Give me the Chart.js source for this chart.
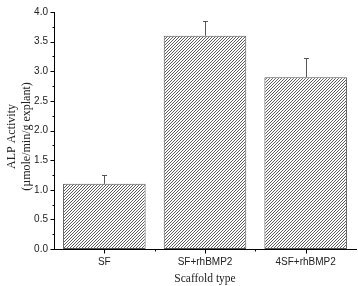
<!DOCTYPE html>
<html>
<head>
<meta charset="utf-8">
<script src="https://cdn.jsdelivr.net/npm/chart.js@4"></script>
<style>
  html, body { margin: 0; padding: 0; background: #fff; }
  #wrap { width: 358px; height: 286px; }
</style>
</head>
<body>
<div id="wrap"><canvas id="alp-chart" width="358" height="286"></canvas></div>
<script>
// data
const categories = ['SF', 'SF+rhBMP2', '4SF+rhBMP2'];
const alpValues = [1.1, 3.6, 2.9];
const alpErrors = [0.15, 0.25, 0.33];
const yTicks = [0, 0.5, 1.0, 1.5, 2.0, 2.5, 3.0, 3.5, 4.0];
const yTitleLines = ['ALP Activity', '(\u00b5mole/min/g explant)'];

const SANS = '"Liberation Sans", Arial, sans-serif';
const SERIF = '"Liberation Serif", "Times New Roman", serif';

// diagonal hatch fill
function makeHatch() {
    const size = 3;
    const c = document.createElement('canvas');
    c.width = size; c.height = size;
    const g = c.getContext('2d');
    g.fillStyle = '#fff';
    g.fillRect(0, 0, size, size);
    g.strokeStyle = '#4a4a4a';
    g.lineWidth = 0.9;
    g.beginPath();
    g.moveTo(-1, size + 1); g.lineTo(size + 1, -1);
    g.moveTo(-1, 1); g.lineTo(1, -1);
    g.moveTo(size - 1, size + 1); g.lineTo(size + 1, size - 1);
    g.stroke();
    return g.createPattern(c, 'repeat');
}

// error bars (upper only), axis ticks, two-line y title
const extrasPlugin = {
    id: 'extras',
    afterDatasetsDraw(chart) {
        const ctx = chart.ctx;
        const y = chart.scales.y;
        const meta = chart.getDatasetMeta(0);
        ctx.save();
        ctx.strokeStyle = '#555';
        ctx.lineWidth = 1;
        meta.data.forEach((bar, i) => {
            const x = Math.round(bar.x) + 0.5;
            const top = y.getPixelForValue(alpValues[i]);
            const hi = Math.round(y.getPixelForValue(alpValues[i] + alpErrors[i])) + 0.5;
            ctx.beginPath();
            ctx.moveTo(x, top);
            ctx.lineTo(x, hi);
            ctx.moveTo(x - 2.5, hi);
            ctx.lineTo(x + 2.5, hi);
            ctx.stroke();
        });
        ctx.restore();
    },
    afterDraw(chart) {
        const ctx = chart.ctx;
        const x = chart.scales.x;
        const y = chart.scales.y;
        const area = chart.chartArea;
        ctx.save();
        ctx.strokeStyle = '#000';
        ctx.lineWidth = 1;
        ctx.beginPath();
        const ax = Math.round(area.left) + 0.5;
        for (let v = 0; v <= 4.0001; v += 0.25) {
            const py = Math.round(y.getPixelForValue(v)) + 0.5;
            const major = Math.abs(v * 2 - Math.round(v * 2)) < 1e-6;
            ctx.moveTo(ax, py);
            ctx.lineTo(ax - (major ? 4 : 2), py);
        }
        const ay = Math.round(area.bottom) + 0.5;
        categories.forEach((c, i) => {
            const px = Math.round(x.getPixelForValue(i)) + 0.5;
            ctx.moveTo(px, ay);
            ctx.lineTo(px, ay + 4);
            if (i > 0) {
                const bx = Math.round((x.getPixelForValue(i) + x.getPixelForValue(i - 1)) / 2) + 0.5;
                ctx.moveTo(bx, ay);
                ctx.lineTo(bx, ay + 2);
            }
        });
        ctx.stroke();

        // y title
        ctx.fillStyle = '#222';
        ctx.font = '12px ' + SERIF;
        ctx.textAlign = 'center';
        ctx.textBaseline = 'middle';
        const cy = (area.top + area.bottom) / 2 + 6;
        [12, 27].forEach((tx, i) => {
            ctx.save();
            ctx.translate(tx, cy);
            ctx.rotate(-Math.PI / 2);
            ctx.fillText(yTitleLines[i], 0, 0);
            ctx.restore();
        });
        ctx.restore();
    }
};

const config = {
    type: 'bar',
    data: {
        labels: categories,
        datasets: [{
            data: alpValues,
            backgroundColor: makeHatch(),
            borderColor: '#555',
            borderWidth: 1,
            borderSkipped: false,
            barPercentage: 0.82,
            categoryPercentage: 1.0
        }]
    },
    options: {
        responsive: false,
        animation: false,
        devicePixelRatio: 1,
        layout: { padding: { top: 5, right: 2, left: 0, bottom: 0 } },
        plugins: {
            legend: { display: false },
            tooltip: { enabled: false }
        },
        scales: {
            x: {
                offset: true,
                grid: { display: false, drawTicks: false },
                border: { display: true, color: '#000', width: 1 },
                ticks: { color: '#222', font: { family: SANS, size: 10 }, padding: 7, maxRotation: 0 },
                title: {
                    display: true,
                    text: 'Scaffold type',
                    color: '#222',
                    font: { family: SERIF, size: 11.5 },
                    padding: { top: 2, bottom: 0 }
                },
                afterFit(scale) { scale.height = 37; }
            },
            y: {
                min: 0,
                max: 4.0,
                afterBuildTicks(scale) { scale.ticks = yTicks.map(v => ({ value: v })); },
                grid: { display: false, drawTicks: false },
                border: { display: true, color: '#000', width: 1 },
                ticks: {
                    color: '#222',
                    font: { family: SANS, size: 10 },
                    padding: 6,
                    callback: v => Number(v).toFixed(1)
                },
                afterFit(scale) { scale.width = 54; }
            }
        }
    },
    plugins: [extrasPlugin]
};

new Chart(document.getElementById('alp-chart').getContext('2d'), config);
</script>
</body>
</html>
